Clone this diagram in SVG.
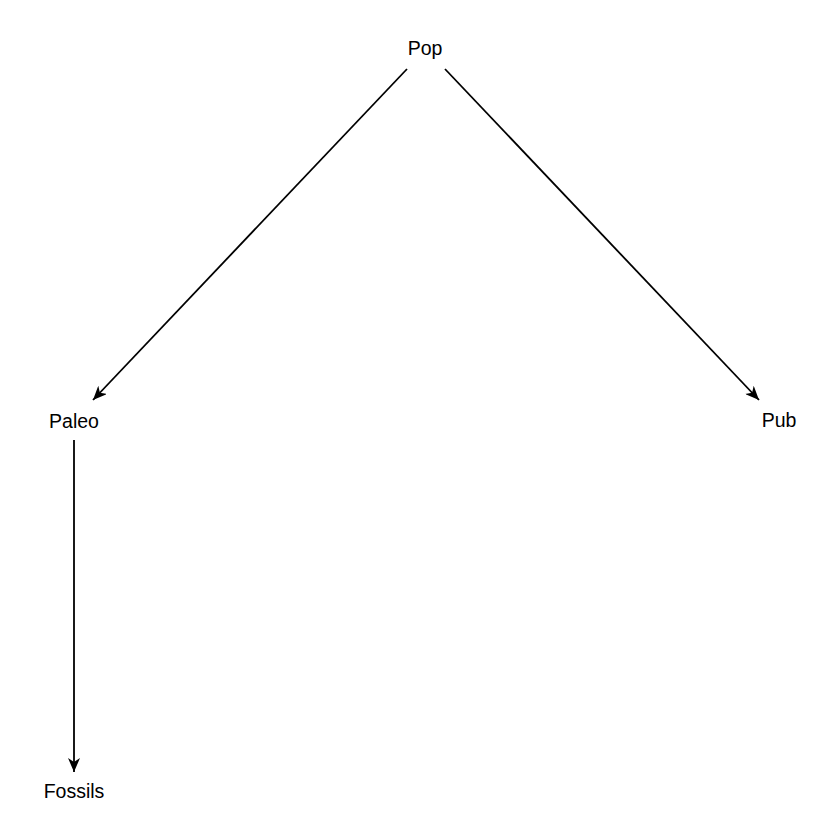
<svg xmlns="http://www.w3.org/2000/svg" width="840" height="840" viewBox="0 0 840 840">
<style>
text{font-family:"Liberation Sans",Arial,sans-serif;font-size:19.5px;fill:#000;text-anchor:middle}
.edge{stroke:#000;stroke-width:1.8;fill:none}
</style>
<defs>
<marker id="ah" viewBox="0 0 14 12" refX="14" refY="6" markerWidth="14" markerHeight="12" markerUnits="userSpaceOnUse" orient="auto">
<path d="M0,0 L14,6 L0,12 L4,6 Z" fill="#000"/>
</marker>
</defs>
<rect width="840" height="840" fill="#fff"/>
<g id="connectors">
<line class="edge" x1="407" y1="69" x2="93" y2="400" marker-end="url(#ah)"/>
<line class="edge" x1="445" y1="69" x2="759" y2="400" marker-end="url(#ah)"/>
<line class="edge" x1="74" y1="440" x2="74" y2="772" marker-end="url(#ah)"/>
</g>
<g id="Pop"><text x="425" y="55">Pop</text></g>
<g id="Paleo"><text x="74" y="428">Paleo</text></g>
<g id="Pub"><text x="779" y="427">Pub</text></g>
<g id="Fossils"><text x="74" y="798">Fossils</text></g>
</svg>
